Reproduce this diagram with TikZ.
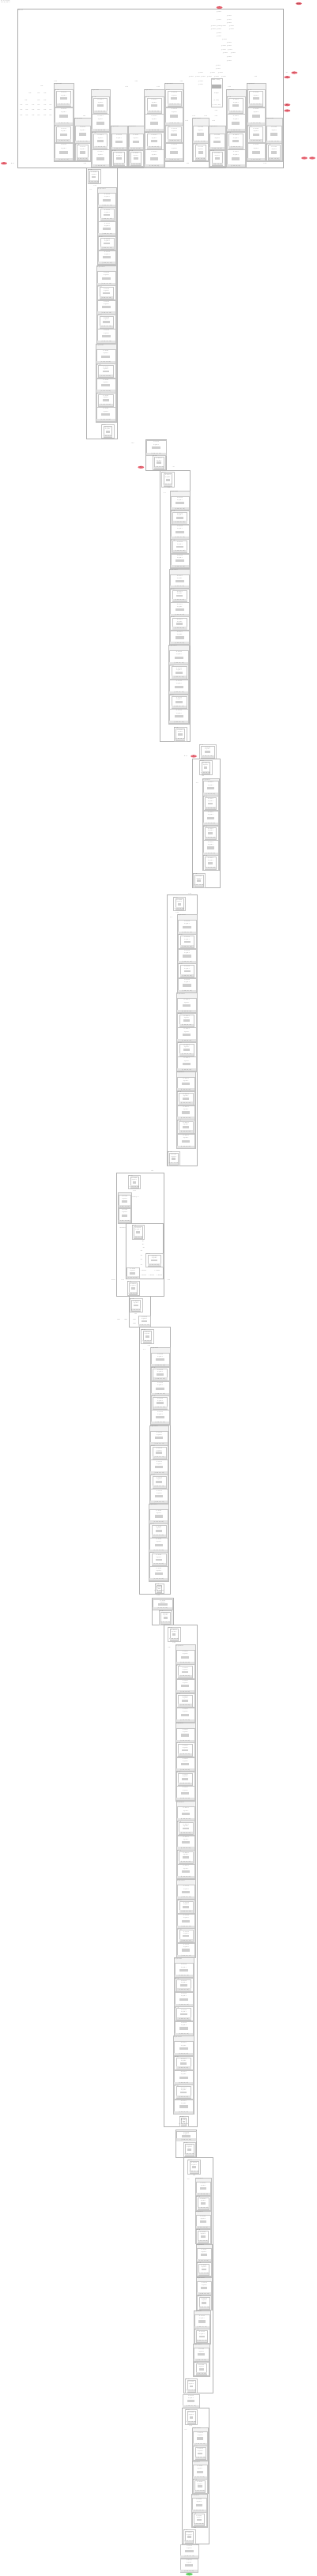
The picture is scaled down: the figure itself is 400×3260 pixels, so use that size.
\documentclass[tikz,border=0pt]{standalone}
\usepackage{fontspec}
\usetikzlibrary{shapes.geometric}

\definecolor{inred}{RGB}{232,98,112}
\definecolor{outgreen}{RGB}{112,222,112}
\newcounter{nd}

\tikzset{
  frm/.style={draw=gray!65,line width=0.6pt},
  col/.style={draw=gray!60,line width=0.5pt},
  grpbox/.style={draw=gray!50,fill=gray!10,line width=0.4pt},
  leafbox/.style={draw=gray!45,fill=white,line width=0.35pt},
  bar/.style={fill=gray!22},
  midblk/.style={fill=gray!38},
  lbl/.style={font=\fontsize{1.5}{1.7}\selectfont,text=gray!75!black,inner sep=0pt},
  inpt/.style={ellipse,fill=inred,minimum width=8pt,minimum height=3.2pt,inner sep=0pt,font=\fontsize{1.5}{1.7}\selectfont},
  outpt/.style={ellipse,fill=outgreen,minimum width=9pt,minimum height=3.6pt,inner sep=0pt,font=\fontsize{1.5}{1.7}\selectfont}
}

% small text label, named by counter
\newcommand{\oplabel}[4][]{\stepcounter{nd}\node[lbl,#1] (t\thend) at ({#2},{#3}) {#4};}

% one layer box: title, op block, shape bar
\newcommand{\modleaf}[4]{%
  \draw[leafbox] ({#1},{#2}) rectangle ({#3},{#4});
  \fill[bar] ({#1},{#4-3.2}) rectangle ({#3},{#4});
  \fill[midblk] ({#1+0.27*(#3-#1)},{#2+0.42*(#4-#2)}) rectangle ({#3-0.27*(#3-#1)},{#2+0.6*(#4-#2)});
  \oplabel{(#1+#3)/2}{#2+2}{Conv2d}
  \oplabel{(#1+#3)/2}{#2+0.3*(#4-#2)}{depth:3}
  \oplabel{(#1+#3)/2}{#4-1.6}{[1, 64, 56, 56]}
}
% layer box inside a frame
\newcommand{\modwrap}[4]{%
  \draw[leafbox] ({#1},{#2}) rectangle ({#3},{#4});
  \oplabel[anchor=west]{#1+0.4}{#2+1}{block}
  \modleaf{(#1+2.5)}{(#2+2)}{(#3-2.5)}{(#4-1)}
}
% group: x1 y1 x2 y2 count header start
\newcommand{\modgrp}[7]{%
  \draw[grpbox] ({#1},{#2}) rectangle ({#3},{#4});
  \oplabel[anchor=west]{#1+0.6}{#2+1.5}{Sequential}
  \pgfmathsetmacro\gh{(#4-#2-#6)/#5}
  \pgfmathtruncatemacro\gl{#5-1}
  \foreach \i in {0,...,\gl}{%
    \pgfmathsetmacro\ga{#2+#6+\i*\gh}
    \pgfmathsetmacro\gb{\ga+\gh-0.6}
    \pgfmathtruncatemacro\gp{mod(\i+#7,2)}
    \ifnum\gp=1 \modwrap{(#1+1)}{\ga}{(#3-1)}{\gb}\else \modleaf{(#1+1)}{\ga}{(#3-1)}{\gb}\fi
  }
}

\begin{document}
\begin{tikzpicture}[x=1pt,y=-1pt]
\useasboundingbox (0,0) rectangle (400,3260);

\oplabel[anchor=north west]{1}{0.4}{model graph}
\oplabel[anchor=north west]{1}{2.4}{batch\_size 1}

\node[inpt] (in1) at (277.5,9.5) {x};
\node[inpt] (in2) at (378,4.5) {mask};

% top module
\draw[frm] (22,11) rectangle (358,212);
\oplabel[anchor=west]{23}{12.6}{Model}

\foreach \p/\q in {277/15,277/25,290/20,290/25,290/29,277/33,270/33,283/33,293/33,
  277/37,270/37,293/37,277/42,277/46,284/50,290/54,283/58,290/58,283/63,291/63,
  285/67,295/67,290/72,290/77,276/83,276/87,269/92,279/92,254/92,242/97,250/97,
  257/97,265/97,274/97,283/97,254/103,254/107}{\oplabel{\p}{\q}{getattr}}

\foreach \p/\q in {53/109,38/118,49/118,57/118,33/127,49/127,57/127,
  27/133,34/133,42/133,49/133,57/133,64/133,27/139,34/139,42/139,49/139,57/139,64/139,
  27/146,34/146,42/146,49/146,57/146,64/146}{\oplabel{\p}{\q}{size}}

\modgrp{68}{105}{93}{204}{4}{8}{1}
\modgrp{94}{149}{115}{204}{2}{10}{0}
\modgrp{115}{113}{139}{212}{4}{9}{1}
\modgrp{140}{159}{161}{211}{2}{10}{0}
\modgrp{161.7}{159}{181.7}{211}{2}{10}{0}
\modgrp{182.3}{113}{207.7}{212}{4}{9}{1}
\modgrp{208.3}{105}{232.3}{204}{4}{8}{1}
\modgrp{243.3}{149}{264}{204}{2}{10}{0}
\modgrp{264.3}{159}{285}{211}{2}{10}{0}
\modgrp{285.7}{113}{310.7}{212}{4}{9}{1}
\modgrp{311.7}{105}{335.7}{204}{4}{8}{1}
\modgrp{336}{149}{357.3}{204}{2}{10}{0}

\draw[leafbox] (266.7,98.7) rectangle (280.7,135);
\fill[gray!60] (267.5,107) rectangle (280,112);
\oplabel{273.7}{101}{Embedding}
\oplabel{273.7}{118}{weight}
\oplabel{273.7}{127}{[1, 512]}
\oplabel{273.7}{133}{[1, 512, 768]}

\foreach \p/\q in {70/102.7,106.7/146.7,160/110,172.3/102.7,200/110,229.3/102.7,
  236/153.3,245/146.7,260/146.7,270/153.3,290/110,323.3/97.3,335/206.7,237.3/206.7,
  107.3/206.7,273.3/140,273.3/146.7}{\oplabel{\p}{\q}{add}}

\oplabel{362.7}{91.7}{out}
\node[inpt] (in3) at (372.3,92) {pos};
\node[inpt] (in4) at (363.3,97.7) {ids};
\node[inpt] (in5) at (363.3,132.7) {h0};
\node[inpt] (in6) at (363.3,140) {c0};
\node[inpt] (in7) at (385,200) {t};
\node[inpt] (in8) at (395,200) {s};
\node[inpt] (in9) at (5,206.7) {z};
\oplabel{16}{206.7}{float}

% column 1
\draw[col] (109.3,212.3) rectangle (148.3,555);
\modwrap{111}{214.3}{126.7}{232.3}
\oplabel{120}{235}{add}
\oplabel{115}{240}{x 3}
\modgrp{123.3}{237.3}{147.3}{335}{5}{7}{0}
\modgrp{122.3}{336.3}{146.7}{434.7}{5}{7}{0}
\modgrp{121}{435.3}{146.7}{533.7}{5}{7}{0}
\modwrap{128.3}{537}{144}{554.3}

\oplabel{167.7}{560.7}{relu}
\draw[col] (184.3,556.3) rectangle (210.7,595.3);
\modleaf{185}{557.3}{210}{575.7}
\modwrap{192.7}{576.3}{209.3}{594}
\node[inpt] (in10) at (178.3,591.3) {h};
\oplabel{219.3}{590.7}{cat}

% column 2
\draw[col] (202.3,595.7) rectangle (240.7,938.3);
\modwrap{204.3}{597.3}{220}{615.7}
\oplabel{213.3}{617.3}{add}
\oplabel{208.3}{624}{x 3}
\modgrp{215}{620.7}{240}{719}{5}{7}{0}
\modgrp{214.3}{720}{240}{816}{5}{7}{0}
\modgrp{213.3}{816}{239.3}{916}{5}{7}{0}
\modwrap{220}{920}{236}{937.7}

\modwrap{251.7}{942}{273.3}{960}
\oplabel{235}{956.7}{float}
\node[inpt] (in11) at (245,957) {m};

% column 3
\draw[col] (243.3,960.3) rectangle (278.3,1123);
\modwrap{252.3}{962}{267.7}{980.3}
\oplabel{256.7}{982}{add}
\oplabel{249.3}{991}{x 6}
\modgrp{255.7}{985.3}{276.7}{1101.3}{6}{3}{0}
\modwrap{244}{1105.3}{259.3}{1123}
\oplabel{240}{1130.7}{add}

% column 4
\draw[col] (211,1132.3) rectangle (249.3,1475.7);
\modwrap{219.3}{1135.3}{234.3}{1152.3}
\oplabel{224}{1155.3}{add}
\oplabel{216.7}{1160.7}{x 3}
\modgrp{224.3}{1157}{248.7}{1256.3}{5}{7}{0}
\modgrp{223.3}{1256.3}{248.7}{1356}{5}{7}{0}
\modgrp{222.7}{1356}{247.3}{1453.3}{5}{7}{0}
\modwrap{212}{1457.3}{227.3}{1475}
\oplabel{192.7}{1482.3}{add}

% attention block
\draw[col] (147.3,1484.3) rectangle (207.3,1640.3);
\modwrap{162.3}{1487.3}{177.3}{1504.3}
\oplabel{170}{1506.7}{view}
\oplabel{171.7}{1515}{transpose}
\draw[grpbox] (149,1509.3) rectangle (166,1548.3);
\modleaf{150}{1511.7}{165.3}{1528.3}
\modleaf{150}{1529.3}{165.3}{1546.7}
\oplabel{155}{1554}{matmul}
\draw[col] (159.3,1548.3) rectangle (206.7,1618.3);
\modwrap{166.7}{1550}{182.3}{1568.3}
\foreach \p/\q in {181/1570.7,181/1575,181.7/1579.3,179/1583.3,179/1589.3,179/1594.3,179/1600.7}{\oplabel{\p}{\q}{div}}
\modwrap{184.3}{1585.7}{206}{1603.3}
\foreach \p/\q in {181.7/1608.3,199/1608.3,181.7/1614.3,191.7/1614.3,201.7/1614.3}{\oplabel{\p}{\q}{softmax}}
\modleaf{160}{1604.3}{175.7}{1618.3}
\oplabel{143.3}{1620}{mask}
\oplabel{155}{1620}{add}
\oplabel{213.3}{1620}{add}
\modwrap{160.7}{1621}{175.7}{1639.3}

\draw[col] (163.3,1640.3) rectangle (190.7,1679.7);
\modwrap{164}{1642.7}{180}{1660.3}
\oplabel{171.7}{1662.7}{add}
\foreach \p/\q in {150/1669.7,159.3/1669.7,170/1669.7,170/1674.7}{\oplabel{\p}{\q}{mul}}
\modleaf{175}{1665.3}{190}{1678.7}

% column 5
\draw[col] (176.7,1679.7) rectangle (215.7,2017.3);
\modwrap{178.3}{1682}{194}{1699.7}
\oplabel{188.3}{1702.7}{add}
\oplabel{182.7}{1708}{x 3}
\modgrp{190}{1704.7}{215}{1802.7}{5}{7}{0}
\modgrp{189.3}{1803.7}{213.3}{1903}{5}{7}{0}
\modgrp{188.3}{1903}{213.3}{2000.7}{5}{7}{0}
\modwrap{195.7}{2004}{206.7}{2015.7}
\oplabel{200}{2019}{add}

\draw[col] (192.3,2022.3) rectangle (219,2056.3);
\modleaf{193.3}{2024}{218.3}{2036.7}
\modwrap{201}{2038}{217.3}{2055.7}

% column 6
\draw[col] (207.3,2056.3) rectangle (249.3,2691.3);
\modwrap{212.3}{2059}{227.7}{2076.7}
\oplabel{220}{2079}{add}
\oplabel{214}{2084.7}{x 6}
\modgrp{221.7}{2081.3}{246.7}{2179.3}{5}{7}{0}
\modgrp{221.7}{2180}{246.7}{2278.7}{5}{7}{0}
\modgrp{222.7}{2279.3}{247.3}{2377.7}{5}{7}{0}
\modgrp{223.3}{2378.3}{247.3}{2477.3}{5}{7}{0}
\modgrp{220}{2477.3}{245}{2576.3}{5}{7}{0}
\modgrp{219.3}{2576.3}{245}{2675.3}{5}{7}{0}
\modwrap{226.7}{2678}{237.7}{2690.7}

\draw[col] (222.3,2695.3) rectangle (248.3,2730);
\modleaf{223}{2697}{248}{2709.5}
\modwrap{231.7}{2711}{247.3}{2729}

% column 7
\draw[col] (232.3,2730) rectangle (269.3,3028.7);
\modwrap{237.3}{2733.3}{253.3}{2750.7}
\oplabel{245.7}{2753.3}{add}
\oplabel{238.3}{2758.3}{x 6}
\modgrp{246.7}{2755.7}{267.3}{2797.3}{2}{5}{0}
\modgrp{246.7}{2797.7}{266.7}{2839.3}{2}{5}{0}
\modgrp{247.7}{2840}{267.7}{2880.7}{2}{5}{0}
\modgrp{248.3}{2881.7}{268.3}{2923.3}{2}{5}{0}
\modgrp{245}{2924}{265.7}{2965.7}{2}{5}{0}
\modgrp{244.3}{2966}{265}{3007}{2}{5}{0}
\modwrap{234.3}{3010.3}{249.3}{3028}

\modleaf{230.7}{3029.7}{252.3}{3047}

% column 8
\draw[col] (230,3047.7) rectangle (264.3,3219.3);
\modwrap{234.3}{3049.3}{249.3}{3068}
\oplabel{241}{3070.3}{add}
\oplabel{235}{3075.3}{x 3}
\modgrp{243.3}{3072}{263.3}{3113.7}{2}{5}{0}
\modgrp{242.7}{3114.3}{262.7}{3155.3}{2}{5}{0}
\modgrp{241.7}{3156.3}{261.7}{3197.7}{2}{5}{0}
\oplabel{246.7}{3199.3}{add}
\modwrap{231.7}{3201.3}{246.7}{3218.7}

\modleaf{228.3}{3219.7}{250.7}{3237}
\modleaf{228.3}{3237.7}{250}{3255.3}
\node[outpt] (out1) at (239.3,3257.7) {output};
\end{tikzpicture}
\end{document}
